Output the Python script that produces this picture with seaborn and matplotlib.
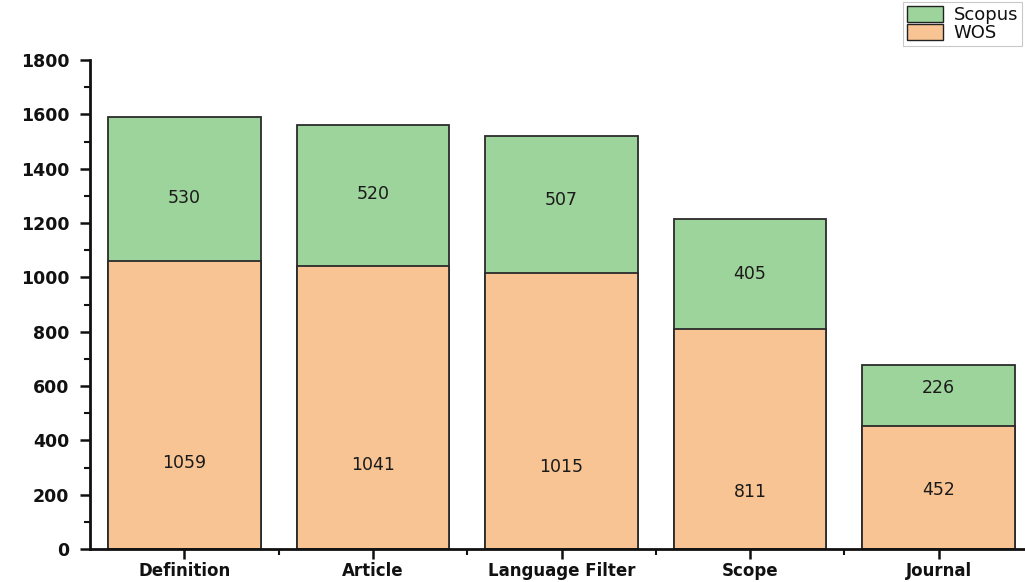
import matplotlib
matplotlib.use("Agg")
import matplotlib.pyplot as plt
import seaborn as sns
import pandas as pd
from matplotlib.ticker import MultipleLocator, FixedLocator
from matplotlib.patches import Patch

categories = ['Definition', 'Article', 'Language Filter', 'Scope', 'Journal']
wos = [1059, 1041, 1015, 811, 452]
scopus = [530, 520, 507, 405, 226]
# where the value labels sit
wos_label_y = [316, 310, 300, 210, 217]
scopus_label_y = [1292, 1306, 1284, 1012, 593]

green = '#9dd49b'
orange = '#f8c493'

df = pd.DataFrame({'cat': categories, 'wos': wos, 'scopus': scopus})
df['total'] = df['wos'] + df['scopus']

sns.set_style('white')
plt.rcParams['font.family'] = ['DejaVu Sans']

fig = plt.figure(figsize=(10.25, 5.82), dpi=100)
ax = fig.add_axes([90 / 1025, 1 - 549 / 582, 943 / 1025, 489 / 582])

sns.barplot(data=df, x='cat', y='total', color=green, width=0.81,
            edgecolor='#2b2b2b', linewidth=1.3, saturation=1, ax=ax)
sns.barplot(data=df, x='cat', y='wos', color=orange, width=0.81,
            edgecolor='#2b2b2b', linewidth=1.3, saturation=1, ax=ax)

for i in range(len(categories)):
    ax.text(i, wos_label_y[i], str(wos[i]), ha='center', va='center',
            fontsize=12.5, color='#1a1a1a')
    ax.text(i, scopus_label_y[i], str(scopus[i]), ha='center', va='center',
            fontsize=12.5, color='#1a1a1a')

ax.set_xlim(-0.5, 4.5)
ax.set_ylim(0, 1800)
ax.yaxis.set_major_locator(MultipleLocator(200))
ax.yaxis.set_minor_locator(MultipleLocator(100))
ax.xaxis.set_minor_locator(FixedLocator([0.5, 1.5, 2.5, 3.5]))
ax.set_xlabel('')
ax.set_ylabel('')

for s in ['top', 'right']:
    ax.spines[s].set_visible(False)
for s in ['left', 'bottom']:
    ax.spines[s].set_linewidth(2)
    ax.spines[s].set_color('#111111')

ax.tick_params(axis='both', which='major', direction='out', length=7, width=1.8,
               color='#111111', bottom=True, left=True, labelcolor='#111111')
ax.tick_params(axis='both', which='minor', direction='out', length=4, width=1.5,
               color='#111111', bottom=True, left=True)
ax.tick_params(axis='y', labelsize=12.5, pad=8)
ax.tick_params(axis='x', labelsize=12, pad=2)
for lab in ax.get_xticklabels() + ax.get_yticklabels():
    lab.set_fontweight('bold')

handles = [Patch(facecolor=green, edgecolor='#222222', label='Scopus'),
           Patch(facecolor=orange, edgecolor='#222222', label='WOS')]
leg = fig.legend(handles=handles, loc='upper right', bbox_to_anchor=(0.997, 0.996),
                 fontsize=13, frameon=True, fancybox=False, labelspacing=0,
                 handlelength=2.0, handleheight=1.0, handletextpad=0.6,
                 borderpad=0.2, borderaxespad=0, labelcolor='#111111')
leg.get_frame().set_edgecolor('#bbbbbb')
leg.get_frame().set_linewidth(0.8)

plt.savefig('out.png', dpi=100)
